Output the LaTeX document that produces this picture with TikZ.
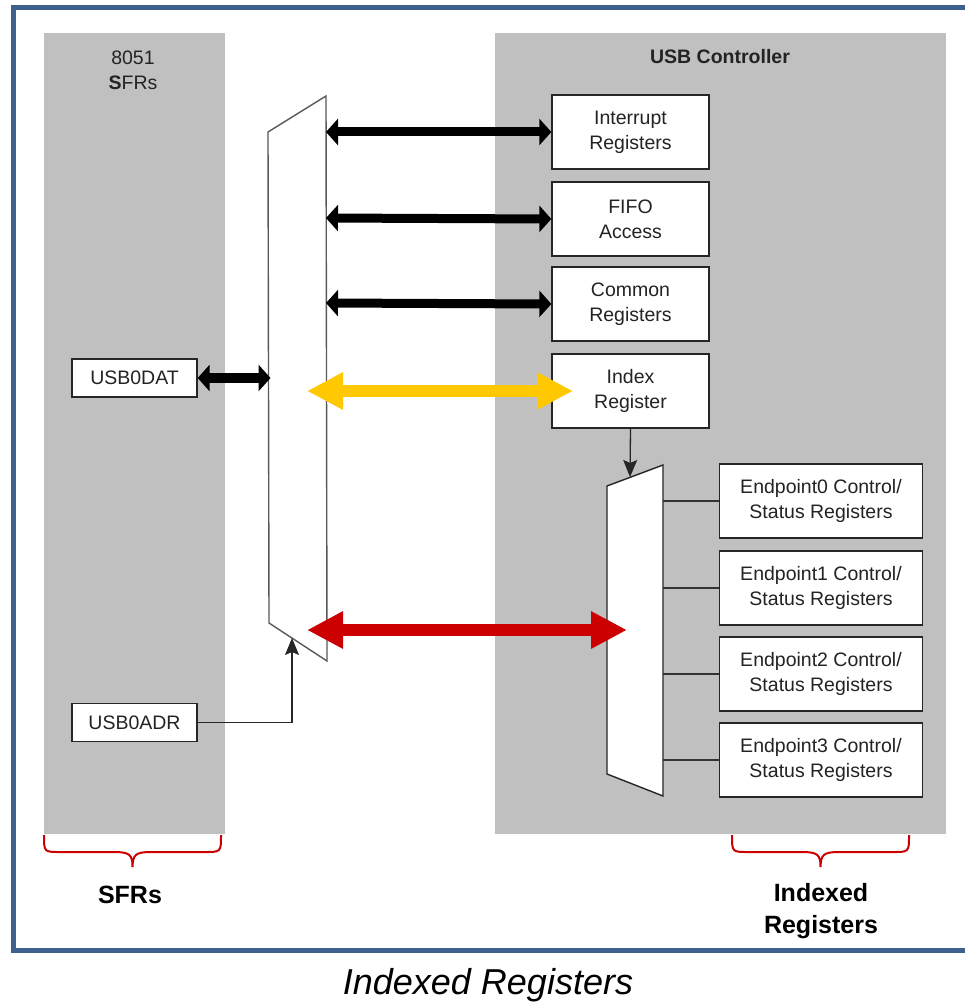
\documentclass[tikz,border=0pt]{standalone}
\usepackage{fontspec}
\setmainfont{Liberation Sans}
\usetikzlibrary{arrows.meta}
\definecolor{panelgray}{RGB}{192,192,192}
\definecolor{framecol}{RGB}{62,96,145}
\definecolor{ayellow}{RGB}{255,200,0}
\definecolor{ared}{RGB}{204,0,0}
\definecolor{txtgray}{RGB}{35,35,35}
\tikzset{
  panel/.style={fill=panelgray,draw=none},
  regbox/.style={draw=black!85,line width=1.3pt,fill=white,align=center,text=txtgray,
    font=\fontsize{19.5}{25}\selectfont,inner sep=0pt},
  regwide/.style={regbox,minimum width=157pt,minimum height=74pt},
  epbox/.style={regbox,minimum width=203pt,minimum height=74pt},
  sfrbox/.style={regbox,minimum width=125pt,minimum height=38pt},
  muxshape/.style={fill=white,draw=black!65,line width=1.4pt,line join=miter},
  bigblack/.style={line width=9pt,black,{Triangle[width=26pt,length=12pt]}-{Triangle[width=26pt,length=12pt]}},
  bigcolor/.style={line width=12pt,{Triangle[width=35pt,length=36pt]}-{Triangle[width=35pt,length=36pt]}},
  thinarrow/.style={line width=1.3pt,black!85,-{Stealth[width=14pt,length=17pt,inset=3pt]}},
  epline/.style={line width=1.5pt,black!80},
  bracestyle/.style={draw=ared,line width=2pt},
  paneltitle/.style={font=\fontsize{19.5}{25}\selectfont,align=center,text=txtgray},
  bottomlabel/.style={font=\fontsize{25}{32}\selectfont\bfseries,align=center},
}
\begin{document}
\begin{tikzpicture}[x=1pt,y=-1pt]
\clip (0,0) rectangle (965,1006);
\fill[white] (0,0) rectangle (965,1006);
% frame
\draw[framecol,line width=5pt] (13,7.5) rectangle (990,950.5);
% panels
\fill[panel] (44,33) rectangle (225,834);
\fill[panel] (495,33) rectangle (946,834);
\node[paneltitle] (t8051) at (133,70) {8051\\\textbf{S}FRs};
\node[paneltitle,font=\fontsize{19.5}{25}\selectfont\bfseries] (tusb) at (720,57) {USB Controller};
% big mux
\draw[muxshape] (268,132) -- (326,96) -- (327,661) -- (269,623) -- cycle;
% small mux
\draw[muxshape,draw=black!85] (607,486) -- (663,465) -- (663,796) -- (607,774) -- cycle;
% registers
\node[regwide] (intr) at (630.5,132) {Interrupt\\Registers};
\node[regwide] (fifo) at (630.5,219) {FIFO\\Access};
\node[regwide] (comm) at (630.5,304) {Common\\Registers};
\node[regwide] (idx) at (630.5,391) {Index\\Register};
\node[epbox] (ep0) at (821,501) {Endpoint0 Control/\\Status Registers};
\node[epbox] (ep1) at (821,588) {Endpoint1 Control/\\Status Registers};
\node[epbox] (ep2) at (821,674) {Endpoint2 Control/\\Status Registers};
\node[epbox] (ep3) at (821,760) {Endpoint3 Control/\\Status Registers};
\node[sfrbox] (dat) at (134.5,378) {USB0DAT};
\node[sfrbox] (adr) at (134.5,722.5) {USB0ADR};
% mux ports
\coordinate (bm1) at (326,132);
\coordinate (bm2) at (326,218);
\coordinate (bm3) at (326,303);
\coordinate (bmdat) at (270.5,378);
\coordinate (bmy) at (307,391);
\coordinate (bmr) at (307,630);
\coordinate (bmadr) at (292,638);
\coordinate (smr) at (627,630);
\coordinate (smtop) at (630,477);
\coordinate (idxR) at (573,391);
\coordinate (s0) at (663,501);
\coordinate (s1) at (663,588);
\coordinate (s2) at (663,674);
\coordinate (s3) at (663,760);
% arrows
\draw[bigblack] (bm1) -- (intr.west);
\draw[bigblack] (bm2) -- (fifo.west);
\draw[bigblack] (bm3) -- (comm.west);
\draw[bigblack,line width=10pt] (dat.east) -- (bmdat);
\draw[bigcolor,ayellow] (bmy) -- (idxR);
\draw[bigcolor,ared] (bmr) -- (smr);
\draw[thinarrow] (idx.south) -- (smtop);
\draw[thinarrow] (adr.east) -| (bmadr);
\draw[epline] (s0) -- (ep0.west);
\draw[epline] (s1) -- (ep1.west);
\draw[epline] (s2) -- (ep2.west);
\draw[epline] (s3) -- (ep3.west);
% braces
\draw[bracestyle] (44,835) .. controls (44,852) and (44,852) .. (60,852) -- (114,852)
  .. controls (130,852) and (132.5,855) .. (132.5,867)
  .. controls (133,855) and (135,852) .. (151,852) -- (205,852)
  .. controls (221,852) and (221,852) .. (221,835);
\draw[bracestyle] (732,835) .. controls (732,852) and (732,852) .. (748,852) -- (802,852)
  .. controls (818,852) and (820.5,855) .. (820.5,867)
  .. controls (821,855) and (823,852) .. (839,852) -- (893,852)
  .. controls (909,852) and (909,852) .. (909,835);
\node[bottomlabel] (lsfr) at (130,895) {SFRs};
\node[bottomlabel] (lidx) at (821,911) {Indexed\\Registers};
\node[font=\fontsize{36}{40}\selectfont\itshape] (cap) at (488,985) {Indexed Registers};
\end{tikzpicture}
\end{document}
